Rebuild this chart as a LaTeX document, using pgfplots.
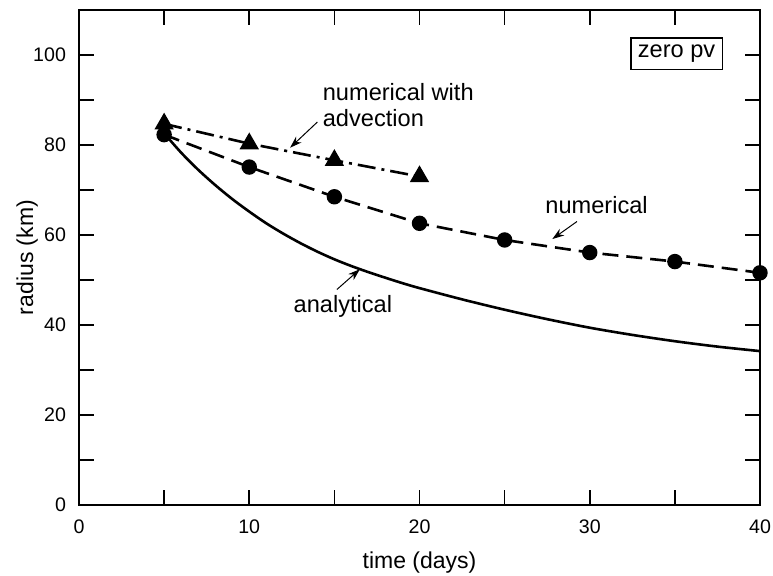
\documentclass[border=0pt]{standalone}
\usepackage{fontspec}
\setmainfont{Liberation Sans}
\usepackage{pgfplots}
\pgfplotsset{compat=1.18}
\usetikzlibrary{arrows.meta}

\begin{document}
\begin{tikzpicture}
\begin{axis}[
  scale only axis, width=340.5pt, height=247.5pt,
  xmin=0, xmax=40, ymin=0, ymax=110,
  xtick={0,5,...,40}, xticklabels={0,,10,,20,,30,,40},
  ytick={0,10,...,110}, yticklabels={0,,20,,40,,60,,80,,100,},
  tick align=inside, major tick length=7.5pt,
  tick style={black, line width=0.8pt},
  axis line style={line width=1pt},
  /pgf/number format/assume math mode=true,
  ticklabel style={font=\fontsize{9.8}{11}\selectfont},
  xticklabel style={yshift=-4pt},
  yticklabel style={xshift=-3pt},
  label style={font=\fontsize{11.5}{13}\selectfont},
  xlabel={time (days)}, ylabel={radius (km)},
  xlabel style={at={(axis description cs:0.5,-0.117)}, anchor=center},
  ylabel style={at={(axis description cs:-0.076,0.5)}, anchor=center},
  clip=false,
]
% analytical
\addplot[black, line width=1.3pt, smooth] coordinates {
(5,82.6) (6,78.3) (7,74.5) (8,71.1) (9,68.0) (10,65.2) (11,62.6) (12,60.3)
(13,58.2) (14,56.3) (15,54.6) (16,53.1) (17,51.75) (18,50.5) (19,49.3)
(20,48.2) (22.5,45.7) (25,43.4) (27.5,41.3) (30,39.4) (32.5,37.8)
(35,36.4) (37.5,35.2) (40,34.2)};
% numerical
\addplot[black, line width=1.3pt, dash pattern=on 8pt off 4pt,
  mark=*, mark size=3.2pt, mark options={solid}] coordinates {
(5,82.3) (10,75.1) (15,68.5) (20,62.6) (25,58.9) (30,56.1) (35,54.1) (40,51.6)};
% numerical with advection
\addplot[black, line width=1.3pt, dash pattern=on 9pt off 3pt on 1.5pt off 3pt,
  mark=triangle*, mark size=4.3pt, mark options={solid}] coordinates {
(5,84.7) (10,80.3) (15,76.6) (20,73.0)};

\node[draw, line width=0.7pt, inner sep=3.5pt, font=\fontsize{11.8}{13}\selectfont] at (axis cs:35.1,100.3) {zero pv};
\node[anchor=west, align=left, font=\fontsize{11.8}{13}\selectfont, inner sep=0pt] at (axis cs:14.3,88.9) {numerical with\\advection};
\node[font=\fontsize{11.8}{13}\selectfont] at (axis cs:30.4,66.7) {numerical};
\node[font=\fontsize{11.8}{13}\selectfont] at (axis cs:15.5,44.1) {analytical};

\draw[-{Stealth[length=6pt,width=4pt]}, line width=0.5pt] (axis cs:14.0,85.1) -- (axis cs:12.4,79.4);
\draw[-{Stealth[length=6pt,width=4pt]}, line width=0.5pt] (axis cs:29.25,63.0) -- (axis cs:27.8,59.1);
\draw[-{Stealth[length=6pt,width=4pt]}, line width=0.5pt] (axis cs:15.15,47.9) -- (axis cs:16.5,52.4);
\end{axis}
\pgfresetboundingbox
\path (current axis.south west) +(-39.5pt,-35pt) (current axis.north east) +(6.5pt,5pt);
\end{tikzpicture}
\end{document}
